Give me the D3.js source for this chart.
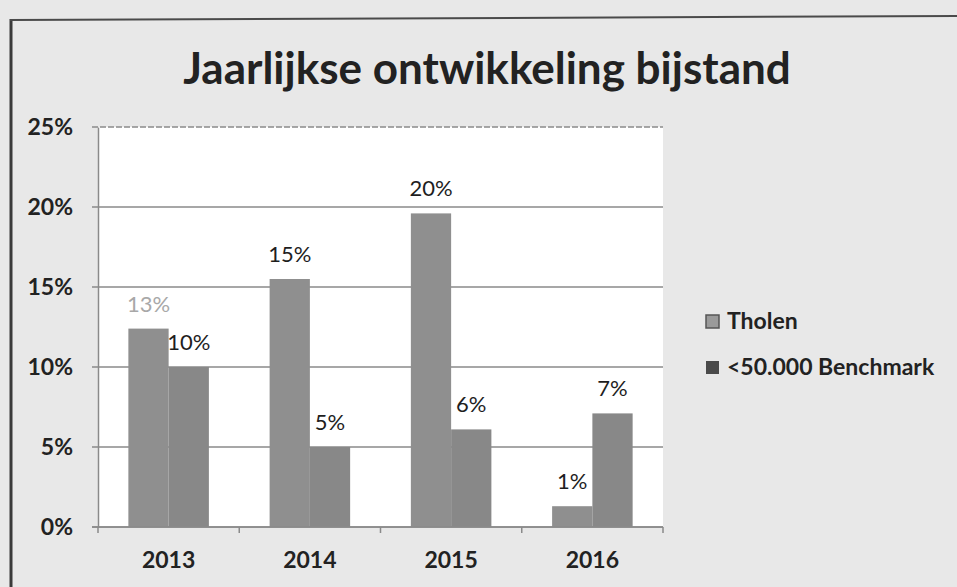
<!DOCTYPE html>
<html>
<head>
<meta charset="utf-8">
<script src="https://cdn.jsdelivr.net/npm/d3@7"></script>
<style>
    body { margin: 0; background: #e8e8e8; }
    svg { display: block; }
    text { font-family: Lato, "Open Sans", sans-serif; }
</style>
</head>
<body>
<svg id="chart"></svg>
<script>
const CHART_WIDTH = 957;
const CHART_HEIGHT = 587;

const PLOT = {
    left: 98,
    right: 663,
    top: 127,
    bottom: 527
};

const years = ["2013", "2014", "2015", "2016"];
const seriesNames = ["Tholen", "<50.000 Benchmark"];
const tholenValues = [12.4, 15.5, 19.6, 1.3];
const benchmarkValues = [10.0, 5.0, 6.1, 7.1];
const tholenLabels = ["13%", "15%", "20%", "1%"];
const benchmarkLabels = ["10%", "5%", "6%", "7%"];
const yTicks = [0, 5, 10, 15, 20, 25];

const BAR_COLORS = ["#8f8f8f", "#888888"];
const LEGEND_COLORS = ["#9a9a9a", "#4a4a4a"];

let svg = d3.select("#chart")
    .attr("width", CHART_WIDTH)
    .attr("height", CHART_HEIGHT);

// scanned page background + outer frame
svg.append("rect")
    .attr("width", CHART_WIDTH)
    .attr("height", CHART_HEIGHT)
    .attr("fill", "#e8e8e8");
svg.append("line")
    .attr("x1", 11).attr("x2", 11)
    .attr("y1", 19).attr("y2", CHART_HEIGHT)
    .attr("stroke", "#3a3a3a").attr("stroke-width", 3);
svg.append("line")
    .attr("x1", 10).attr("x2", CHART_WIDTH)
    .attr("y1", 20).attr("y2", 16)
    .attr("stroke", "#4a4a4a").attr("stroke-width", 2);

svg.append("text")
    .attr("x", 487)
    .attr("y", 84)
    .attr("text-anchor", "middle")
    .attr("font-size", "44px")
    .attr("font-weight", "bold")
    .attr("fill", "#222")
    .text("Jaarlijkse ontwikkeling bijstand");

let xScale = d3.scaleBand()
    .domain(years)
    .range([PLOT.left, PLOT.right])
    .paddingInner(0.43)
    .paddingOuter(0.215);

let xSub = d3.scaleBand()
    .domain(seriesNames)
    .range([0, xScale.bandwidth()]);

let yScale = d3.scaleLinear()
    .domain([0, 25])
    .range([PLOT.bottom, PLOT.top]);

svg.append("rect")
    .attr("x", PLOT.left)
    .attr("y", PLOT.top)
    .attr("width", PLOT.right - PLOT.left)
    .attr("height", PLOT.bottom - PLOT.top)
    .attr("fill", "#ffffff");

// gridlines
svg.append("g")
    .selectAll("line")
    .data(yTicks)
    .join("line")
        .attr("x1", PLOT.left - 6)
        .attr("x2", PLOT.right)
        .attr("y1", d => yScale(d))
        .attr("y2", d => yScale(d))
        .attr("stroke", "#8a8a8a")
        .attr("stroke-width", 1.5)
        .attr("stroke-dasharray", d => d === 25 ? "6,2" : null);

let yAxis = d3.axisLeft(yScale)
    .tickValues(yTicks)
    .tickFormat(d => d + "%")
    .tickSize(0)
    .tickPadding(25);
svg.append("g")
    .attr("transform", `translate(${PLOT.left}, 0)`)
    .call(yAxis)
    .call(g => g.select(".domain").attr("stroke", "#8a8a8a").attr("stroke-width", 1.5))
    .call(g => g.selectAll("text")
        .attr("font-size", "23px")
        .attr("font-weight", "bold")
        .attr("fill", "#222"));

let rows = years.map((year, i) => ({
    year: year,
    values: [
        { series: seriesNames[0], value: tholenValues[i], label: tholenLabels[i], index: 0 },
        { series: seriesNames[1], value: benchmarkValues[i], label: benchmarkLabels[i], index: 1 }
    ]
}));

let groups = svg.append("g")
    .selectAll("g")
    .data(rows)
    .join("g")
        .attr("transform", d => `translate(${xScale(d.year)}, 0)`);

groups.selectAll("rect")
    .data(d => d.values)
    .join("rect")
        .attr("x", d => xSub(d.series))
        .attr("y", d => yScale(d.value))
        .attr("width", xSub.bandwidth())
        .attr("height", d => yScale(0) - yScale(d.value))
        .attr("fill", d => BAR_COLORS[d.index]);

groups.selectAll("text")
    .data(d => d.values)
    .join("text")
        .attr("x", d => xSub(d.series) + xSub.bandwidth() / 2)
        .attr("y", d => yScale(d.value) - 17)
        .attr("text-anchor", "middle")
        .attr("font-size", "22px")
        .attr("fill", d => d.label === "13%" ? "#a8a8a8" : "#1e1e1e")
        .text(d => d.label);

// x axis with ticks at category boundaries
let xAxisG = svg.append("g");
xAxisG.append("line")
    .attr("x1", PLOT.left - 6).attr("x2", PLOT.right)
    .attr("y1", PLOT.bottom).attr("y2", PLOT.bottom)
    .attr("stroke", "#8a8a8a").attr("stroke-width", 1.5);
let step = xScale.step();
xAxisG.selectAll(".tick-mark")
    .data(d3.range(years.length + 1))
    .join("line")
        .classed("tick-mark", true)
        .attr("x1", i => PLOT.left + i * step)
        .attr("x2", i => PLOT.left + i * step)
        .attr("y1", PLOT.bottom)
        .attr("y2", PLOT.bottom + 6)
        .attr("stroke", "#8a8a8a").attr("stroke-width", 1.5);
xAxisG.selectAll(".year-label")
    .data(years)
    .join("text")
        .classed("year-label", true)
        .attr("x", d => xScale(d) + xScale.bandwidth() / 2)
        .attr("y", 568)
        .attr("text-anchor", "middle")
        .attr("font-size", "23px")
        .attr("font-weight", "bold")
        .attr("fill", "#222")
        .text(d => d);

// legend
let legend = svg.append("g")
    .selectAll("g")
    .data(seriesNames)
    .join("g")
        .attr("transform", (d, i) => `translate(706, ${322 + i * 46})`);
legend.append("rect")
    .attr("x", 0)
    .attr("y", -7)
    .attr("width", 13)
    .attr("height", 13)
    .attr("fill", (d, i) => LEGEND_COLORS[i])
    .attr("stroke", (d, i) => i === 0 ? "#555" : "none")
    .attr("stroke-width", 1.5);
legend.append("text")
    .attr("x", 21)
    .attr("y", 7)
    .attr("font-size", "23px")
    .attr("font-weight", "bold")
    .attr("fill", "#222")
    .text(d => d);
</script>
</body>
</html>
